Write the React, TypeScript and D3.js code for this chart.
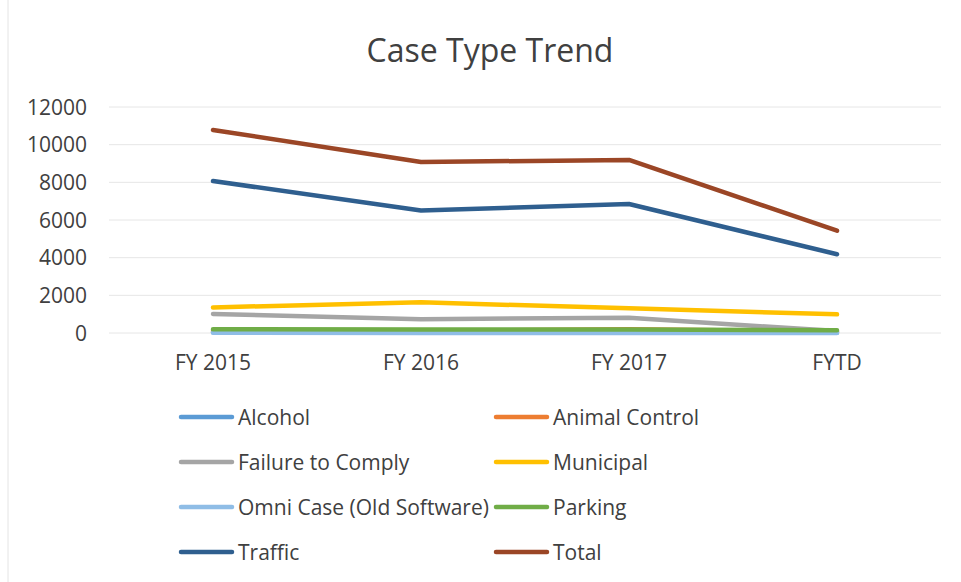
import React from 'react';
import * as d3 from 'd3';

const categories = ['FY 2015', 'FY 2016', 'FY 2017', 'FYTD'];
const yTicks = [0, 2000, 4000, 6000, 8000, 10000, 12000];

const alcohol = [40, 30, 30, 20];
const animalControl = [100, 110, 200, 80];
const failureToComply = [1010, 730, 810, 100];
const municipal = [1360, 1630, 1310, 990];
const omniCase = [10, 5, 5, 0];
const parking = [200, 190, 180, 150];
const traffic = [8070, 6500, 6850, 4180];
const total = [10780, 9080, 9190, 5430];

const series = [
  { name: 'Alcohol', color: '#5B9BD5', values: alcohol },
  { name: 'Animal Control', color: '#ED7D31', values: animalControl },
  { name: 'Failure to Comply', color: '#A5A5A5', values: failureToComply },
  { name: 'Municipal', color: '#FFC000', values: municipal },
  { name: 'Omni Case (Old Software)', color: '#8FBDE6', values: omniCase },
  { name: 'Parking', color: '#70AD47', values: parking },
  { name: 'Traffic', color: '#2F5F8F', values: traffic },
  { name: 'Total', color: '#9B4626', values: total },
];

const W = 961;
const H = 582;
const font = '"Open Sans", Lato, sans-serif';

export default function App() {
  const x = d3.scaleBand<string>().domain(categories).range([109, 941]);
  const y = d3.scaleLinear().domain([0, 12000]).range([333, 107]);

  const line = d3
    .line<number>()
    .x((d, i) => (x(categories[i]) as number) + x.bandwidth() / 2)
    .y(d => y(d));

  return (
    <svg width={W} height={H} style={{ position: 'absolute', left: 0, top: 0, background: '#fff' }}>
      <rect x={0} y={0} width={W} height={H} fill="#fff" />
      <line x1={8} x2={8} y1={0} y2={H} stroke="#e4e4e4" strokeWidth={1} />
      <text x={490} y={62} textAnchor="middle" fontFamily={font} fontSize={32} fill="#404040">
        Case Type Trend
      </text>

      {/* gridlines */}
      {yTicks.map(t => (
        <line key={t} x1={109} x2={941} y1={y(t)} y2={y(t)} stroke="#e6e6e6" strokeWidth={1} />
      ))}
      {yTicks.map(t => (
        <text key={'l' + t} x={87} y={y(t)} dy="0.36em" textAnchor="end" fontFamily={font} fontSize={21} fill="#404040">
          {t}
        </text>
      ))}
      {categories.map(c => (
        <text key={c} x={(x(c) as number) + x.bandwidth() / 2} y={370} textAnchor="middle" fontFamily={font} fontSize={21} fill="#404040">
          {c}
        </text>
      ))}

      {series.map(s => (
        <path key={s.name} d={line(s.values) || ''} fill="none" stroke={s.color} strokeWidth={4.5} strokeLinecap="round" strokeLinejoin="round" />
      ))}

      {/* legend */}
      {series.map((s, i) => {
        const col = i % 2;
        const row = Math.floor(i / 2);
        const lx = col === 0 ? 181 : 496;
        const ly = 417 + row * 45;
        return (
          <g key={'lg' + s.name}>
            <line x1={lx} x2={lx + 51} y1={ly} y2={ly} stroke={s.color} strokeWidth={4.5} strokeLinecap="round" />
            <text x={lx + 57} y={ly} dy="0.36em" fontFamily={font} fontSize={21} fill="#404040">
              {s.name}
            </text>
          </g>
        );
      })}
    </svg>
  );
}
